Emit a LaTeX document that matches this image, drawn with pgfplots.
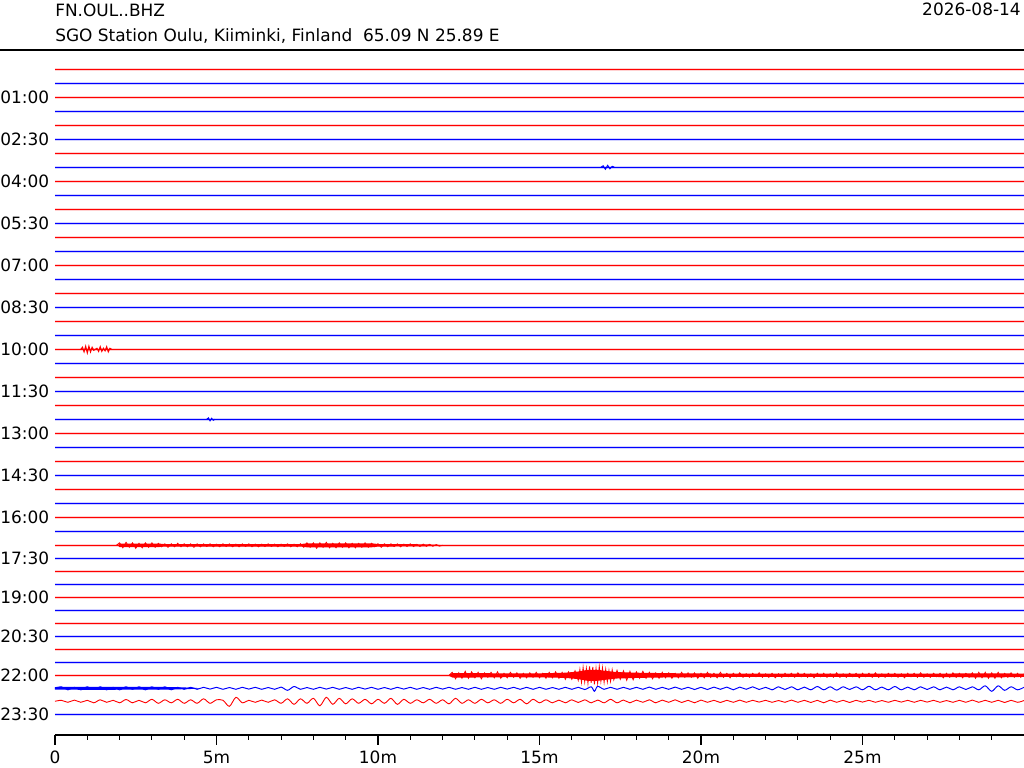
\documentclass[12pt,border=0pt]{standalone}
\usepackage{fontspec}
\setmainfont{DejaVu Sans}
\usepackage{pgfplots}
\usepackage{pgfplotstable}
\pgfplotsset{compat=1.18}

% offsets d in px from the trace baseline (1 px = 0.01in)
\pgfplotstableread[row sep=\\]{
t d\\
0.80 0\\ 0.85 -2\\ 0.90 2.5\\ 0.95 -3\\ 1.00 3.5\\ 1.05 -3\\ 1.10 2.5\\ 1.15 -2\\ 1.20 1\\ 1.25 0\\
1.30 -1\\ 1.35 2\\ 1.40 -2.5\\ 1.45 2\\ 1.50 -1\\ 1.55 1.5\\ 1.60 -2.5\\ 1.65 2.5\\ 1.70 -1\\ 1.75 0\\
}\evten

\pgfplotstableread[row sep=\\]{
t d\\
16.90 0\\ 16.97 -1.5\\ 17.04 2\\ 17.11 -2\\ 17.18 1.5\\ 17.25 -1\\ 17.32 0\\
}\evthree

\pgfplotstableread[row sep=\\]{
t d\\
4.70 0\\ 4.75 -1.5\\ 4.80 1.5\\ 4.85 -1\\ 4.90 1\\ 4.95 0\\
}\evtwelve

% outline (px) of the dense noise band of the larger events: upper edge, then lower edge back
\pgfplotstableread[row sep=\\]{
t e\\
1.95 -0.3\\ 2.0 -1.8\\ 3.2 -1.8\\ 3.4 -1.2\\ 7.6 -1.2\\ 7.8 -2\\ 9.8 -2\\ 10.0 -1.3\\ 11.5 -1\\ 11.9 -0.3\\
11.9 0.3\\ 11.5 1\\ 10.0 1.3\\ 9.8 2\\ 7.8 2\\ 7.6 1.2\\ 3.4 1.2\\ 3.2 1.8\\ 2.0 1.8\\ 1.95 0.3\\
}\bandseventeen

\pgfplotstableread[row sep=\\]{
t e\\
12.2 -0.5\\ 12.3 -2.2\\ 13.0 -2.2\\ 14.0 -1.9\\ 15.0 -2\\ 15.8 -2.6\\ 16.2 -3.8\\ 16.5 -5.5\\ 16.8 -5.5\\ 17.1 -4.2\\
17.4 -3.2\\ 18.0 -2.6\\ 19.0 -2.1\\ 20.0 -1.9\\ 21.0 -1.6\\ 24.0 -1.6\\ 27.0 -1.6\\ 28.5 -2\\ 29.3 -2\\ 30.0 -1.6\\
30.0 1.6\\ 29.3 2\\ 28.5 2\\ 27.0 1.6\\ 24.0 1.6\\ 21.0 1.6\\ 20.0 1.9\\ 19.0 2.1\\ 18.0 2.6\\ 17.4 3.2\\
17.1 4.2\\ 16.8 5.5\\ 16.5 5.5\\ 16.2 3.8\\ 15.8 2.6\\ 15.0 2\\ 14.0 1.9\\ 13.0 2.2\\ 12.3 2.2\\ 12.2 0.5\\
}\bandtwentytwo

\pgfplotstableread[row sep=\\]{
t e\\
0.0 -1.3\\ 1.0 -1.5\\ 2.5 -1.4\\ 3.5 -1.3\\ 4.3 -0.6\\ 4.5 0\\
4.3 0.6\\ 3.5 1.3\\ 2.5 1.4\\ 1.0 1.5\\ 0.0 1.3\\
}\bandtwentytwothirty

\pgfplotstableread[row sep=\\]{
t d\\
1.9 0\\ 2.0 -2.5\\ 2.1 2.5\\ 2.2 -3\\ 2.3 2\\ 2.4 -2.5\\ 2.5 3\\ 2.6 -2\\ 2.7 2.5\\ 2.8 -2.5\\ 2.9 2\\
3.0 -2.5\\ 3.1 2\\ 3.2 -2\\ 3.3 1.5\\ 3.4 -1.5\\ 3.5 2\\ 3.6 -1.5\\ 3.7 1.5\\ 3.8 -2\\ 3.9 1.5\\
4.0 -1.5\\ 4.1 1.5\\ 4.2 -1.5\\ 4.3 2\\ 4.4 -1.5\\ 4.5 1.5\\ 4.6 -1.5\\ 4.7 1.2\\ 4.8 -1.5\\ 4.9 1.5\\
5.0 -1.2\\ 5.1 1.5\\ 5.2 -1.5\\ 5.3 1.2\\ 5.4 -1.5\\ 5.5 1.5\\ 5.6 -1.2\\ 5.7 1.5\\ 5.8 -1.5\\ 5.9 1.2\\
6.0 -1.5\\ 6.1 1.5\\ 6.2 -1.2\\ 6.3 1.5\\ 6.4 -1.2\\ 6.5 1.2\\ 6.6 -1.5\\ 6.7 1.2\\ 6.8 -1.2\\ 6.9 1.5\\
7.0 -1.2\\ 7.1 1.2\\ 7.2 -1.5\\ 7.3 1.5\\ 7.4 -1.2\\ 7.5 1.5\\ 7.6 -1.5\\ 7.7 2\\ 7.8 -2.5\\ 7.9 2\\
8.0 -2.5\\ 8.1 3\\ 8.2 -2.5\\ 8.3 2\\ 8.4 -3\\ 8.5 2.5\\ 8.6 -2\\ 8.7 2.5\\ 8.8 -2.5\\ 8.9 2\\
9.0 -2.5\\ 9.1 2.5\\ 9.2 -2\\ 9.3 2.5\\ 9.4 -2\\ 9.5 2\\ 9.6 -2.5\\ 9.7 2\\ 9.8 -2\\ 9.9 1.5\\
10.0 -1.5\\ 10.1 2\\ 10.2 -1.5\\ 10.3 1.5\\ 10.4 -1.5\\ 10.5 1.2\\ 10.6 -1.5\\ 10.7 1.5\\ 10.8 -1.2\\ 10.9 1.2\\
11.0 -1.5\\ 11.1 1.2\\ 11.2 -1\\ 11.3 1.2\\ 11.4 -1.2\\ 11.5 1\\ 11.6 -1\\ 11.7 1\\ 11.8 -0.8\\ 11.9 0.8\\ 12.0 0\\
}\evseventeen

\pgfplotstableread[row sep=\\]{
t d\\
12.2 0\\ 12.3 -3\\ 12.4 3.5\\ 12.5 -2.5\\ 12.6 3\\ 12.7 -4\\ 12.8 3\\ 12.9 -3.5\\
13.0 2.5\\ 13.1 -3\\ 13.2 3.5\\ 13.3 -2.5\\ 13.4 2\\ 13.5 -3\\ 13.6 2.5\\ 13.7 -3.5\\ 13.8 3\\ 13.9 -2\\
14.0 2.5\\ 14.1 -3\\ 14.2 2\\ 14.3 -2.5\\ 14.4 3\\ 14.5 -2\\ 14.6 2.5\\ 14.7 -2.5\\ 14.8 2\\ 14.9 -3\\
15.0 2.5\\ 15.1 -2\\ 15.2 3\\ 15.3 -3\\ 15.4 2.5\\ 15.5 -3.5\\ 15.6 3\\ 15.7 -3\\ 15.8 4\\ 15.9 -3.5\\
16.0 4\\ 16.1 -4.5\\ 16.2 5\\ 16.25 -6\\ 16.3 7\\ 16.35 -8\\ 16.4 6.5\\ 16.45 -7\\ 16.5 8\\ 16.55 -9\\
16.6 7.5\\ 16.65 -8.5\\ 16.7 9\\ 16.75 -7\\ 16.8 8\\ 16.85 -9\\ 16.9 6\\ 16.95 -7.5\\ 17.0 7\\ 17.05 -6\\
17.1 6.5\\ 17.15 -5\\ 17.2 6\\ 17.25 -5.5\\ 17.3 4.5\\ 17.4 -5\\ 17.5 4\\ 17.6 -4.5\\ 17.7 5\\ 17.8 -4\\ 17.9 4.5\\
18.0 -3.5\\ 18.1 3\\ 18.2 -4\\ 18.3 3\\ 18.4 -3\\ 18.5 3.5\\ 18.6 -2.5\\ 18.7 3\\ 18.8 -3\\ 18.9 2.5\\
19.0 -2.5\\ 19.1 3\\ 19.2 -2\\ 19.3 2.5\\ 19.4 -3\\ 19.5 2\\ 19.6 -2.5\\ 19.7 2\\ 19.8 -2.5\\ 19.9 3\\
20.0 -2\\ 20.1 2.5\\ 20.2 -3\\ 20.3 2\\ 20.4 -2\\ 20.5 2.5\\ 20.6 -3\\ 20.7 2\\ 20.8 -2\\ 20.9 2.5\\
21.0 -2\\ 21.1 1.5\\ 21.2 -2.5\\ 21.3 2\\ 21.4 -1.5\\ 21.5 2\\ 21.6 -2\\ 21.7 1.5\\ 21.8 -2.5\\ 21.9 2\\
22.0 -1.5\\ 22.1 2\\ 22.2 -2\\ 22.3 2.5\\ 22.4 -1.5\\ 22.5 2\\ 22.6 -2\\ 22.7 1.5\\ 22.8 -2\\ 22.9 2\\
23.0 -2.5\\ 23.1 1.5\\ 23.2 -2\\ 23.3 2\\ 23.4 -1.5\\ 23.5 2.5\\ 23.6 -2\\ 23.7 1.5\\ 23.8 -2\\ 23.9 2\\
24.0 -1.5\\ 24.1 2\\ 24.2 -2.5\\ 24.3 2\\ 24.4 -1.5\\ 24.5 2\\ 24.6 -2\\ 24.7 1.5\\ 24.8 -2\\ 24.9 2.5\\
25.0 -2\\ 25.1 1.5\\ 25.2 -2\\ 25.3 2\\ 25.4 -2.5\\ 25.5 2\\ 25.6 -1.5\\ 25.7 2\\ 25.8 -2\\ 25.9 1.5\\
26.0 -2\\ 26.1 2\\ 26.2 -1.5\\ 26.3 2.5\\ 26.4 -2\\ 26.5 1.5\\ 26.6 -2\\ 26.7 2\\ 26.8 -2.5\\ 26.9 2\\
27.0 -1.5\\ 27.1 2\\ 27.2 -2\\ 27.3 1.5\\ 27.4 -2\\ 27.5 2.5\\ 27.6 -2\\ 27.7 2\\ 27.8 -2.5\\ 27.9 2\\
28.0 -2\\ 28.1 2.5\\ 28.2 -2\\ 28.3 2\\ 28.4 -2.5\\ 28.5 3\\ 28.6 -3\\ 28.7 2.5\\ 28.8 -3\\ 28.9 3\\
29.0 -2.5\\ 29.1 3\\ 29.2 -3\\ 29.3 2.5\\ 29.4 -2\\ 29.5 2\\ 29.6 -2.5\\ 29.7 2\\ 29.8 -2\\ 29.9 2\\ 30.0 -1.5\\
}\evtwentytwo

\pgfplotstableread[row sep=\\]{
t d\\
0.0 0\\ 0.2 -1.5\\ 0.4 1.5\\ 0.6 -1\\ 0.8 1.5\\ 1.0 -1.5\\ 1.2 1\\ 1.4 -1.5\\ 1.6 1.5\\ 1.8 -1\\
2.0 1.5\\ 2.2 -1.5\\ 2.4 1\\ 2.6 -1.5\\ 2.8 1.5\\ 3.0 -1.5\\ 3.2 1\\ 3.4 -1.5\\ 3.6 1.5\\ 3.8 -1\\
4.0 1\\ 4.2 -1\\ 4.4 1\\ 4.6 -1\\ 4.8 0.8\\ 5.0 -1\\ 5.2 1\\ 5.4 -0.8\\ 5.6 1\\ 5.8 -1\\
6.0 0.8\\ 6.2 -1\\ 6.4 1\\ 6.6 -0.8\\ 6.8 1\\ 7.0 -1.2\\ 7.2 2\\ 7.4 -1.8\\ 7.6 1\\ 7.8 -0.8\\
8.0 1\\ 8.2 -1\\ 8.4 0.8\\ 8.6 -1\\ 8.8 1\\ 9.0 -0.8\\ 9.2 1\\ 9.4 -1\\ 9.6 0.8\\ 9.8 -1\\
10.0 1\\ 10.2 -0.8\\ 10.4 1\\ 10.6 -1\\ 10.8 0.8\\ 11.0 -1\\ 11.2 1\\ 11.4 -0.8\\ 11.6 1\\ 11.8 -1\\
12.0 0.8\\ 12.2 -1\\ 12.4 1\\ 12.6 -0.8\\ 12.8 1\\ 13.0 -1\\ 13.2 1\\ 13.4 -0.8\\ 13.6 1\\ 13.8 -1\\
14.0 0.8\\ 14.2 -1\\ 14.4 1\\ 14.6 -1\\ 14.8 1\\ 15.0 -1\\ 15.2 1\\ 15.4 -0.8\\ 15.6 1\\ 15.8 -1\\
16.0 1\\ 16.2 -1\\ 16.4 1.2\\ 16.6 -1.5\\ 16.7 3\\ 16.8 -2\\ 17.0 1\\ 17.2 -1\\ 17.4 1\\ 17.6 -1\\ 17.8 1\\
18.0 -1\\ 18.2 1\\ 18.4 -1.2\\ 18.6 1\\ 18.8 -1\\ 19.0 1\\ 19.2 -1.2\\ 19.4 1\\ 19.6 -1\\ 19.8 1.2\\
20.0 -1\\ 20.2 1.2\\ 20.4 -1.2\\ 20.6 1\\ 20.8 -1.2\\ 21.0 1.5\\ 21.2 -1.2\\ 21.4 1\\ 21.6 -1.5\\ 21.8 1.2\\
22.0 -1\\ 22.2 1.5\\ 22.4 -1.5\\ 22.6 1.2\\ 22.8 -1.5\\ 23.0 1.5\\ 23.2 -1.2\\ 23.4 1.5\\ 23.6 -1.8\\ 23.8 1.5\\
24.0 -1.5\\ 24.2 1.8\\ 24.4 -1.5\\ 24.6 1.2\\ 24.8 -1.5\\ 25.0 1.5\\ 25.2 -2\\ 25.4 1.5\\ 25.6 -1.2\\ 25.8 1.5\\
26.0 -1.8\\ 26.2 1.5\\ 26.4 -1.2\\ 26.6 1.5\\ 26.8 -1.5\\ 27.0 1.2\\ 27.2 -1.5\\ 27.4 1.5\\ 27.6 -1.2\\ 27.8 1.5\\
28.0 -1.5\\ 28.2 1.2\\ 28.4 -1.5\\ 28.6 1.5\\ 28.8 -2.5\\ 29.0 3\\ 29.2 -2.5\\ 29.4 2\\ 29.6 -1.5\\ 29.8 1.5\\ 30.0 -1\\
}\rowtwentytwothirty

\pgfplotstableread[row sep=\\]{
t d\\
0.0 0\\ 0.2 -1\\ 0.4 1\\ 0.6 -1.2\\ 0.8 1\\ 1.0 -1\\ 1.2 1.5\\ 1.4 -1.5\\ 1.6 1\\ 1.8 -1\\
2.0 1.5\\ 2.2 -1.8\\ 2.4 1.5\\ 2.6 -1\\ 2.8 1.5\\ 3.0 -2\\ 3.2 2\\ 3.4 -1.5\\ 3.6 1.5\\ 3.8 -2\\
4.0 2\\ 4.2 -1.5\\ 4.4 2\\ 4.6 -2.5\\ 4.8 2\\ 5.0 -1.5\\ 5.2 -1\\ 5.4 5\\ 5.6 -4\\ 5.8 1.5\\
6.0 -1\\ 6.2 1\\ 6.4 -1.2\\ 6.6 1\\ 6.8 -1.5\\ 7.0 2\\ 7.2 -2.5\\ 7.4 3\\ 7.6 -2.5\\ 7.8 2\\
8.0 -3\\ 8.2 4.5\\ 8.4 -4\\ 8.6 3\\ 8.8 -3\\ 9.0 2.5\\ 9.2 -2.5\\ 9.4 2\\ 9.6 -2\\ 9.8 2.5\\
10.0 -2\\ 10.2 2\\ 10.4 -3\\ 10.6 3\\ 10.8 -2\\ 11.0 2\\ 11.2 -1.5\\ 11.4 1.5\\ 11.6 -2\\ 11.8 2\\
12.0 -1.5\\ 12.2 2.5\\ 12.4 -3\\ 12.6 2\\ 12.8 -1.5\\ 13.0 2\\ 13.2 -2\\ 13.4 1.5\\ 13.6 -1.5\\ 13.8 2\\
14.0 -2\\ 14.2 1.5\\ 14.4 -2\\ 14.6 2.5\\ 14.8 -2\\ 15.0 1.5\\ 15.2 -1.5\\ 15.4 1.5\\ 15.6 -1.2\\ 15.8 1.5\\
16.0 -1.5\\ 16.2 1.2\\ 16.4 -1.5\\ 16.6 1.5\\ 16.8 -1.2\\ 17.0 1.5\\ 17.2 -2\\ 17.4 1.5\\ 17.6 -1.2\\ 17.8 1.5\\
18.0 -1.2\\ 18.2 1\\ 18.4 -1.5\\ 18.6 1.5\\ 18.8 -1.2\\ 19.0 1\\ 19.2 -1.5\\ 19.4 1.2\\ 19.6 -1\\ 19.8 1.5\\
20.0 -1.2\\ 20.2 1\\ 20.4 -1\\ 20.6 1.2\\ 20.8 -1\\ 21.0 1\\ 21.2 -1.2\\ 21.4 1\\ 21.6 -1\\ 21.8 0.8\\
22.0 -1\\ 22.2 1\\ 22.4 -0.8\\ 22.6 1\\ 22.8 -1.2\\ 23.0 1\\ 23.2 -1\\ 23.4 1.2\\ 23.6 -1\\ 23.8 1.5\\
24.0 -1.2\\ 24.2 1\\ 24.4 -1\\ 24.6 1.2\\ 24.8 -1\\ 25.0 0.8\\ 25.2 -1\\ 25.4 1\\ 25.6 -0.8\\ 25.8 1\\
26.0 -1\\ 26.2 0.8\\ 26.4 -1\\ 26.6 1\\ 26.8 -1\\ 27.0 0.8\\ 27.2 -1\\ 27.4 1\\ 27.6 -0.8\\ 27.8 1\\
28.0 -1\\ 28.2 1\\ 28.4 -1.2\\ 28.6 1\\ 28.8 -1\\ 29.0 1\\ 29.2 -1\\ 29.4 1.2\\ 29.6 -1\\ 29.8 1\\ 30.0 -0.8\\
}\rowtwentythree

\definecolor{trred}{HTML}{FF0000}
\definecolor{trblue}{HTML}{0000FF}

\begin{document}
\begin{tikzpicture}[font=\fontsize{12.25}{14}\selectfont]
\path[use as bounding box] (0,0) rectangle (10.24in,7.68in);
\node[anchor=base west, inner sep=0pt] at (0.55in,7.51in) {FN.OUL..BHZ};
\node[anchor=base west, inner sep=0pt] at (0.55in,7.263in) {SGO Station Oulu, Kiiminki, Finland\ \ 65.09 N 25.89 E};
\node[anchor=base east, inner sep=0pt] at (10.21in,7.52in) {2026-08-14};
\draw[line width=0.75pt] (0,7.18in) -- (10.24in,7.18in);

\begin{axis}[
  at={(0.55in,0.33in)}, anchor=south west,
  scale only axis, width=9.69in, height=6.85in,
  xmin=0, xmax=30, ymin=50, ymax=735, y dir=reverse,
  axis x line*=bottom, axis y line*=left,
  y axis line style={draw=none},
  x axis line style={line width=0.8pt},
  xtick={0,5,10,15,20,25}, xticklabels={0,5m,10m,15m,20m,25m},
  minor xtick={1,2,3,4,6,7,8,9,11,12,13,14,16,17,18,19,21,22,23,24,26,27,28,29},
  xtick align=outside, ytick align=inside,
  major tick length=7.2pt, minor tick length=3.6pt,
  xtick style={black, line width=0.8pt},
  ytick style={draw=none},
  ytick={97.3,139.3,181.3,223.3,265.3,307.3,349.3,391.3,433.3,475.3,517.3,558.3,597.3,636.3,675.3,714.3},
  yticklabels={01:00,02:30,04:00,05:30,07:00,08:30,10:00,11:30,13:00,14:30,16:00,17:30,19:00,20:30,22:00,23:30},
  ticklabel style={font=\fontsize{12.25}{14}\selectfont},
  clip=false,
]
% flat noise level of each half-hour trace: faint haze, then the trace itself
\pgfplotsinvokeforeach{69.3,97.3,125.3,153.3,181.3,209.3,237.3,265.3,293.3,321.3,349.3,377.3,405.3,433.3,461.3,489.3,517.3,545.3,571.3,597.3,623.3,649.3,675.3}{
  \addplot[draw=trred!18, line width=2.3pt] coordinates {(0,#1) (30,#1)};
  \addplot[draw=trred, line width=1pt] coordinates {(0,#1) (30,#1)};
}
\pgfplotsinvokeforeach{83.3,111.3,139.3,167.3,195.3,223.3,251.3,279.3,307.3,335.3,363.3,391.3,419.3,447.3,475.3,503.3,531.3,558.3,584.3,610.3,636.3,662.3,714.3}{
  \addplot[draw=trblue!18, line width=2.3pt] coordinates {(0,#1) (30,#1)};
  \addplot[draw=trblue, line width=1pt] coordinates {(0,#1) (30,#1)};
}
% dense noise bands
\addplot[fill=trred, draw=none] table[x=t, y expr=545.3+\thisrow{e}] {\bandseventeen};
\addplot[fill=trred, draw=none] table[x=t, y expr=675.3+\thisrow{e}] {\bandtwentytwo};
\addplot[fill=trblue, draw=none] table[x=t, y expr=688.3+\thisrow{e}] {\bandtwentytwothirty};
% events
\addplot[draw=trblue, line width=0.7pt] table[x=t, y expr=\thisrow{d}+167.3] {\evthree};
\addplot[draw=trred, line width=0.8pt] table[x=t, y expr=\thisrow{d}+349.3] {\evten};
\addplot[draw=trblue, line width=0.7pt] table[x=t, y expr=\thisrow{d}+419.3] {\evtwelve};
\addplot[draw=trred, line width=0.6pt] table[x=t, y expr=\thisrow{d}+545.3] {\evseventeen};
\addplot[draw=trred, line width=0.6pt] table[x=t, y expr=\thisrow{d}+675.3] {\evtwentytwo};
\addplot[draw=trblue, line width=0.7pt, smooth] table[x=t, y expr=\thisrow{d}+688.3] {\rowtwentytwothirty};
\addplot[draw=trred, line width=0.65pt, smooth] table[x=t, y expr=\thisrow{d}+701.3] {\rowtwentythree};
\end{axis}
\end{tikzpicture}
\end{document}
